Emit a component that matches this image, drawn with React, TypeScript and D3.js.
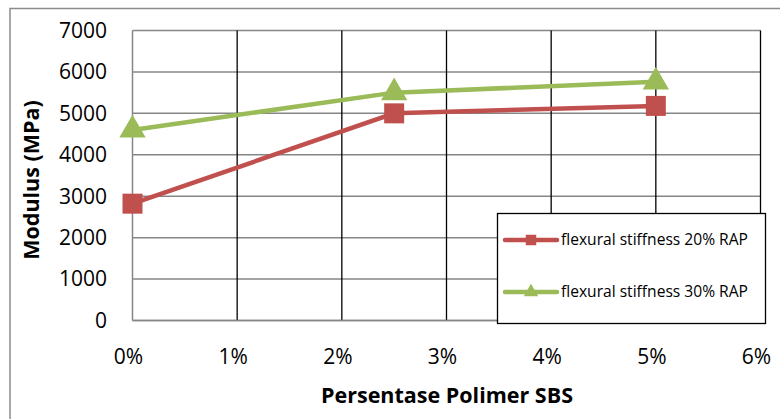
import React from "react";
import * as d3 from "d3";

const xTicks = [0, 1, 2, 3, 4, 5, 6];
const yTicks = [0, 1000, 2000, 3000, 4000, 5000, 6000, 7000];
const sbsPercent = [0, 2.5, 5];
const rap20 = [2820, 5000, 5180];
const rap30 = [4600, 5500, 5760];
const seriesNames = ["flexural stiffness 20% RAP", "flexural stiffness 30% RAP"];
const seriesColors = ["#C0504D", "#9BBB59"];

const W = 780;
const H = 419;
const plot = { left: 132.5, right: 760.5, top: 30.5, bottom: 320.5 };
const FONT = "'Open Sans', 'Liberation Sans', sans-serif";

export default function App() {
  const x = d3.scaleLinear().domain([0, 6]).range([plot.left, plot.right]);
  const y = d3.scaleLinear().domain([0, 7000]).range([plot.bottom, plot.top]);
  const line = d3
    .line<number>()
    .x((_, i) => x(sbsPercent[i]))
    .y((d) => y(d));

  const square = d3.symbol().type(d3.symbolSquare).size(400);
  const tri = d3.symbol().type(d3.symbolTriangle).size(300);

  const series = [rap20, rap30];
  const legendY = [240, 292];

  return (
    <svg
      width={W}
      height={H}
      style={{ position: "absolute", left: 0, top: 0, background: "#fff" }}
    >
      <rect x={10} y={8.5} width={800} height={450} fill="#fff" stroke="#8c8c8c" strokeWidth={1.5} />

      {/* horizontal gridlines */}
      {yTicks.map((t) => (
        <line key={"h" + t} x1={plot.left} x2={plot.right} y1={y(t)} y2={y(t)} stroke="#868686" strokeWidth={1.5} />
      ))}
      {/* vertical gridlines */}
      {xTicks.slice(1).map((t) => (
        <line key={"v" + t} x1={x(t)} x2={x(t)} y1={plot.top} y2={plot.bottom} stroke="#000" strokeWidth={1.3} />
      ))}
      {/* axes */}
      <line x1={plot.left} x2={plot.left} y1={plot.top} y2={plot.bottom} stroke="#868686" strokeWidth={1.5} />
      <line x1={plot.left} x2={plot.right} y1={plot.bottom} y2={plot.bottom} stroke="#868686" strokeWidth={1.5} />

      {/* y tick labels */}
      {yTicks.map((t) => (
        <text key={"yl" + t} x={107} y={y(t)} dy="0.35em" textAnchor="end" fontFamily={FONT} fontSize={21} fill="#000">
          {t}
        </text>
      ))}
      {/* x tick labels */}
      {xTicks.map((t) => (
        <text key={"xl" + t} x={x(t) - 4} y={357} dy="0.35em" textAnchor="middle" fontFamily={FONT} fontSize={21} fill="#000">
          {t + "%"}
        </text>
      ))}

      <text
        transform={`translate(31,180) rotate(-90)`}
        textAnchor="middle"
        dy="0.35em"
        fontFamily={FONT}
        fontWeight="bold"
        fontSize={21.5}
      >
        Modulus (MPa)
      </text>
      <text x={447} y={395} textAnchor="middle" dy="0.35em" fontFamily={FONT} fontWeight="bold" fontSize={21.5}>
        Persentase Polimer SBS
      </text>

      {/* series */}
      {series.map((vals, si) => (
        <g key={"s" + si}>
          <path d={line(vals) || ""} fill="none" stroke={seriesColors[si]} strokeWidth={4.5} />
          {vals.map((v, i) => (
            <path
              key={i}
              d={(si === 0 ? square() : tri()) || ""}
              transform={`translate(${x(sbsPercent[i])},${y(v)})`}
              fill={seriesColors[si]}
            />
          ))}
        </g>
      ))}

      {/* legend */}
      <rect x={497.5} y={213.5} width={268} height={110} fill="#fff" stroke="#000" strokeWidth={1.3} />
      {seriesNames.map((name, i) => (
        <g key={"lg" + i}>
          <line x1={505} x2={557} y1={legendY[i]} y2={legendY[i]} stroke={seriesColors[i]} strokeWidth={4.5} strokeLinecap="round" />
          <path
            d={(i === 0 ? d3.symbol().type(d3.symbolSquare).size(110)() : d3.symbol().type(d3.symbolTriangle).size(90)()) || ""}
            transform={`translate(531,${legendY[i]})`}
            fill={seriesColors[i]}
          />
          <text x={561} y={legendY[i]} dy="0.35em" fontFamily={FONT} fontSize={15.6} fill="#000">
            {name}
          </text>
        </g>
      ))}
    </svg>
  );
}
